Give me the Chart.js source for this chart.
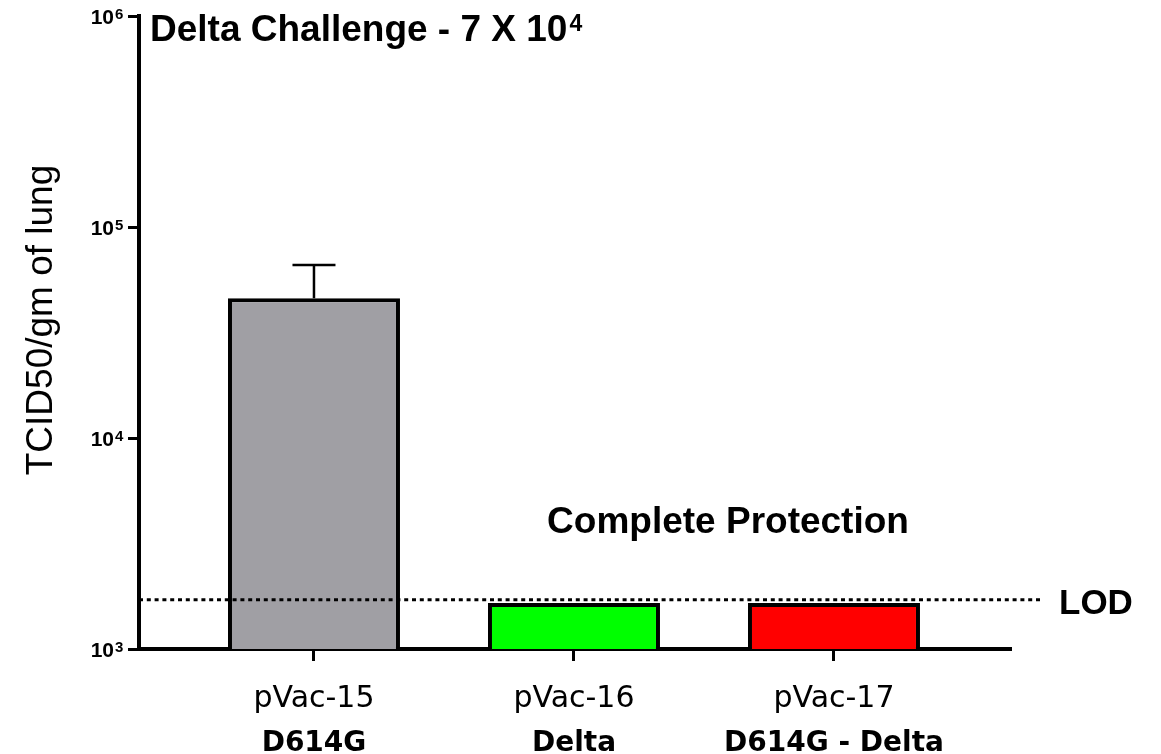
<!DOCTYPE html>
<html>
<head>
<meta charset="utf-8">
<script src="https://cdn.jsdelivr.net/npm/chart.js@4.4.0/dist/chart.umd.min.js"></script>
<style>
  html, body { margin: 0; padding: 0; background: #fff; }
  #wrap { width: 1161px; height: 754px; }
</style>
</head>
<body>
<div id="wrap"><canvas id="lungChart" width="1161" height="754"></canvas></div>
<script>
// Data
const groups = ['pVac-15', 'pVac-16', 'pVac-17'];
const strains = ['D614G', 'Delta', 'D614G - Delta'];
const titerMean = [46000, 1650, 1650];
const titerUpper = [66000, null, null];
const barColors = ['#a09fa4', '#00ff00', '#ff0000'];
const lodLevel = [1710];
const yTicks = [1e3, 1e4, 1e5, 1e6];

// draws axis labels, title, LOD line and error bars
const annotate = {
    id: 'annotate',
    afterDraw(chart) {
        const ctx = chart.ctx;
        const x = chart.scales.x;
        const y = chart.scales.y;
        const area = chart.chartArea;
        ctx.save();
        ctx.fillStyle = '#000';
        ctx.strokeStyle = '#000';

        // error bars (upper only)
        ctx.lineWidth = 2.5;
        titerUpper.forEach((v, i) => {
            if (v == null) return;
            const px = x.getPixelForValue(i);
            const top = y.getPixelForValue(v);
            const base = y.getPixelForValue(titerMean[i]);
            ctx.beginPath();
            ctx.moveTo(px, base);
            ctx.lineTo(px, top);
            ctx.moveTo(px - 21.5, top);
            ctx.lineTo(px + 21.5, top);
            ctx.stroke();
        });

        // LOD dotted line
        const ly = y.getPixelForValue(lodLevel[0]);
        ctx.setLineDash([4, 3.8]);
        ctx.lineWidth = 3;
        ctx.beginPath();
        ctx.moveTo(area.left, ly);
        ctx.lineTo(1042, ly);
        ctx.stroke();
        ctx.setLineDash([]);
        ctx.font = 'bold 35px "Liberation Sans", Arial, sans-serif';
        ctx.textAlign = 'left';
        ctx.textBaseline = 'alphabetic';
        ctx.fillText('LOD', 1059, ly + 14);

        // y tick labels 10^n
        yTicks.forEach(v => {
            const ty = y.getPixelForValue(v);
            ctx.font = 'bold 21px "Liberation Sans", Arial, sans-serif';
            ctx.textAlign = 'right';
            ctx.fillText('10', 114, ty + 8);
            ctx.font = 'bold 15px "Liberation Sans", Arial, sans-serif';
            ctx.textAlign = 'left';
            ctx.fillText(String(Math.round(Math.log10(v))), 115, ty + 3);
        });

        // x category labels
        ctx.textAlign = 'center';
        groups.forEach((g, i) => {
            const px = x.getPixelForValue(i);
            ctx.font = '30px "DejaVu Sans", sans-serif';
            ctx.fillText(g, px, 707);
            ctx.font = 'bold 28px "DejaVu Sans", sans-serif';
            ctx.fillText(strains[i], px, 751);
        });

        // y axis title
        ctx.save();
        ctx.translate(52, 320);
        ctx.rotate(-Math.PI / 2);
        ctx.font = '37px "Liberation Sans", Arial, sans-serif';
        ctx.textAlign = 'center';
        ctx.fillText('TCID50/gm of lung', 0, 0);
        ctx.restore();

        // chart title
        ctx.textAlign = 'left';
        ctx.font = 'bold 37px "Liberation Sans", Arial, sans-serif';
        const t = 'Delta Challenge - 7 X 10';
        ctx.fillText(t, 150, 41);
        const w = ctx.measureText(t).width;
        ctx.font = 'bold 23px "Liberation Sans", Arial, sans-serif';
        ctx.fillText('4', 150 + w + 2, 31);

        // note inside plot
        ctx.textAlign = 'center';
        ctx.font = 'bold 37px "Liberation Sans", Arial, sans-serif';
        ctx.fillText('Complete Protection', 728, 533);

        ctx.restore();
    }
};

const ctx = document.getElementById('lungChart').getContext('2d');
const chart = new Chart(ctx, {
    type: 'bar',
    data: {
        datasets: [{
            data: titerMean.map((v, i) => ({ x: i, y: v })),
            backgroundColor: barColors,
            borderColor: '#000',
            borderWidth: 4,
            borderSkipped: 'start',
            categoryPercentage: 1,
            barPercentage: 0.6615
        }]
    },
    options: {
        responsive: false,
        animation: false,
        layout: { padding: { top: 16, right: 151, left: 0, bottom: 0 } },
        plugins: {
            legend: { display: false },
            tooltip: { enabled: false }
        },
        scales: {
            x: {
                type: 'linear',
                min: -0.673,
                max: 2.677,
                offset: false,
                z: 1,
                afterFit: s => { s.height = 105; },
                afterBuildTicks: s => { s.ticks = groups.map((g, i) => ({ value: i })); },
                ticks: { display: false },
                grid: { offset: false, drawOnChartArea: false, drawTicks: true, tickLength: 12, lineWidth: 3, color: '#000' },
                border: { display: true, color: '#000', width: 4 }
            },
            y: {
                type: 'logarithmic',
                min: 1000,
                max: 1000000,
                z: 1,
                afterFit: s => { s.width = 139; },
                afterBuildTicks: s => { s.ticks = yTicks.map(v => ({ value: v })); },
                ticks: { display: false },
                grid: { drawOnChartArea: false, drawTicks: true, tickLength: 11, lineWidth: 3, color: '#000' },
                border: { display: true, color: '#000', width: 4 }
            }
        }
    },
    plugins: [annotate]
});
</script>
</body>
</html>
